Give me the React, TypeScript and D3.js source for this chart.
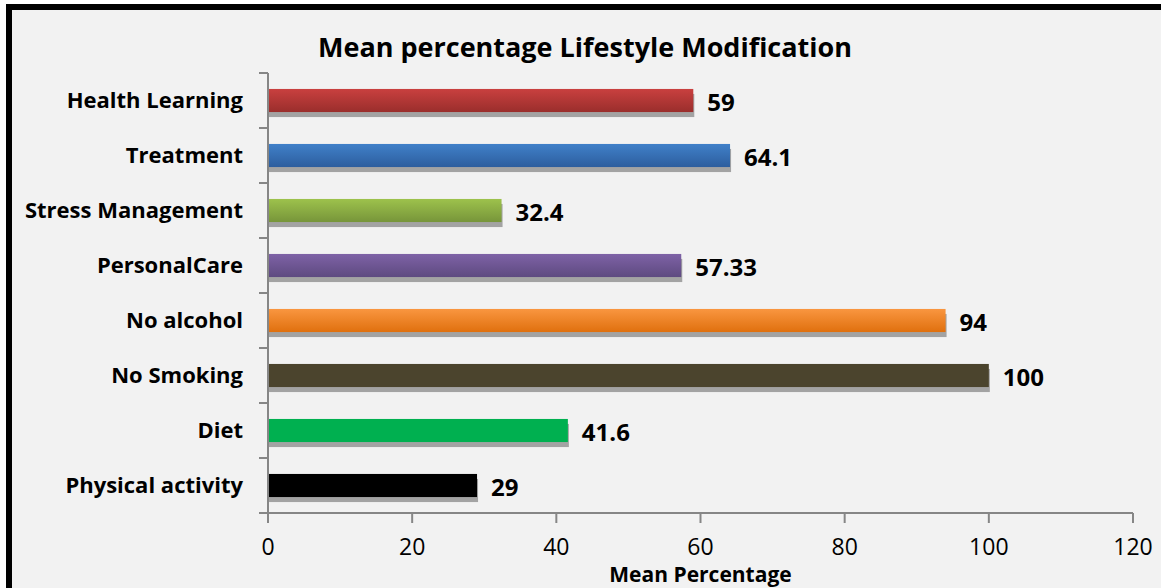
import React from "react";
import * as d3 from "d3";

const categories = [
  "Health Learning",
  "Treatment",
  "Stress Management",
  "PersonalCare",
  "No alcohol",
  "No Smoking",
  "Diet",
  "Physical activity",
];
const values = [59, 64.1, 32.4, 57.33, 94, 100, 41.6, 29];
const valueLabels = ["59", "64.1", "32.4", "57.33", "94", "100", "41.6", "29"];
const barTop = ["#c9403f", "#4080c9", "#9dc24c", "#7e62a6", "#f99640", "#4b442d", "#00b050", "#000000"];
const barBottom = ["#9a2e2c", "#2d5e9e", "#77953a", "#5e4a80", "#e0700e", "#4b442d", "#00b050", "#000000"];
const xTicks = [0, 20, 40, 60, 80, 100, 120];
const title = "Mean percentage Lifestyle Modification";
const xTitle = "Mean Percentage";

const W = 1161;
const H = 588;
const left = 268;
const right = 1133;
const top = 73;
const bottom = 513;
const FONT = "'Open Sans', 'DejaVu Sans', sans-serif";

export default function App() {
  const x = d3.scaleLinear().domain([0, 120]).range([left, right]);
  const y = d3.scaleBand().domain(categories).range([top, bottom]).paddingInner(0.58).paddingOuter(0.29);
  const bh = y.bandwidth();
  const catTicks = d3.range(categories.length + 1).map((i) => top + i * ((bottom - top) / categories.length));

  return (
    <svg width={W} height={H} style={{ position: "absolute", left: 0, top: 0, display: "block" }}>
      <defs>
        {categories.map((c, i) => (
          <linearGradient key={c} id={`g${i}`} x1="0" y1="0" x2="0" y2="1">
            <stop offset="0%" stopColor={barTop[i]} />
            <stop offset="100%" stopColor={barBottom[i]} />
          </linearGradient>
        ))}
      </defs>
      <rect x={0} y={0} width={W} height={H} fill="#ffffff" />
      <rect x={9} y={7} width={W + 20} height={H + 20} fill="#f2f2f2" stroke="#000" strokeWidth={6} />

      <text x={585} y={57} textAnchor="middle" fontFamily={FONT} fontWeight={700} fontSize={27} fill="#000">
        {title}
      </text>

      {/* bars */}
      {categories.map((c, i) => {
        const by = y(c)!;
        const w = x(values[i]) - x(0);
        return (
          <g key={c}>
            <rect x={x(0) + 1} y={by + 5} width={w} height={bh} fill="#a3a3a3" />
            <rect x={x(0)} y={by} width={w} height={bh} fill={`url(#g${i})`} />
            <text
              x={x(values[i]) + 14}
              y={by + bh / 2 + 10}
              fontFamily={FONT}
              fontWeight={700}
              fontSize={24}
              fill="#000"
            >
              {valueLabels[i]}
            </text>
            <text
              x={243}
              y={by + bh / 2 + 7.5}
              textAnchor="end"
              fontFamily={FONT}
              fontWeight={700}
              fontSize={22}
              fill="#000"
            >
              {c}
            </text>
          </g>
        );
      })}

      {/* y axis */}
      <line x1={left} x2={left} y1={top} y2={bottom} stroke="#868686" strokeWidth={2} />
      {catTicks.map((t, i) => (
        <line key={i} x1={left - 9} x2={left} y1={t} y2={t} stroke="#868686" strokeWidth={2} />
      ))}

      {/* x axis */}
      <line x1={left} x2={right} y1={bottom} y2={bottom} stroke="#868686" strokeWidth={2} />
      {xTicks.map((t) => (
        <g key={t}>
          <line x1={x(t)} x2={x(t)} y1={bottom} y2={bottom + 10} stroke="#868686" strokeWidth={2} />
          <text x={x(t)} y={555} textAnchor="middle" fontFamily={FONT} fontSize={23} fill="#000">
            {t}
          </text>
        </g>
      ))}
      <text x={(left + right) / 2} y={582} textAnchor="middle" fontFamily={FONT} fontWeight={700} fontSize={21} fill="#000">
        {xTitle}
      </text>
    </svg>
  );
}
